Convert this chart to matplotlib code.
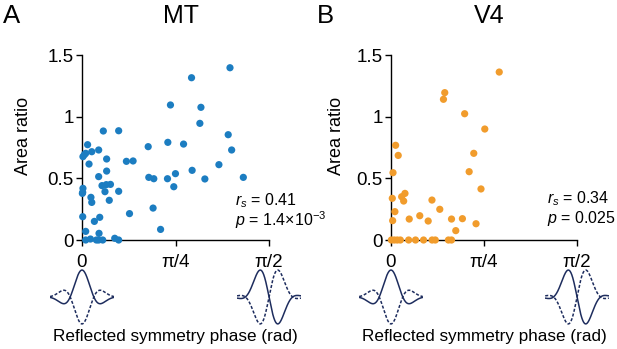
import numpy as np
import matplotlib
matplotlib.use("Agg")
import matplotlib.pyplot as plt

FONT = "Liberation Sans"
plt.rcParams['font.family'] = [FONT, 'DejaVu Sans']
plt.rcParams['mathtext.fontset'] = 'custom'
plt.rcParams['mathtext.rm'] = FONT
plt.rcParams['mathtext.it'] = FONT + ':italic'

# ---- data ----
mt_phase = [0.920, 1.243, 0.743, 0.999, 0.990, 1.228, 1.257, 0.179, 0.308, 0.047,
            0.020, 0.031, 0.008, 0.082, 0.140, 0.059, 0.207, 0.140, 0.207, 0.373,
            0.429, 0.556, 0.721, 0.853, 0.561, 0.603, 0.718, 0.785, 0.771, 0.925,
            1.032, 1.150, 1.355, 0.597, 0.660, 0.399, 0.008, 0.006, 0.003, 0.075,
            0.082, 0.006, 0.168, 0.193, 0.204, 0.239, 0.229, 0.308, 0.149, 0.104,
            0.031, 0.143, 0.031, 0.071, 0.121, 0.174, 0.275, 0.308, 0.140]
mt_ratio = [1.316, 1.397, 1.095, 1.076, 0.946, 0.854, 0.730, 0.884, 0.886, 0.773,
            0.692, 0.703, 0.676, 0.716, 0.730, 0.616, 0.657, 0.514, 0.559, 0.638,
            0.641, 0.757, 0.792, 0.778, 0.508, 0.497, 0.497, 0.538, 0.432, 0.565,
            0.495, 0.611, 0.508, 0.259, 0.086, 0.214, 0.419, 0.386, 0.378, 0.346,
            0.305, 0.189, 0.441, 0.392, 0.449, 0.451, 0.322, 0.395, 0.184, 0.151,
            0.070, 0.054, 0.000, 0.008, 0.000, 0.000, 0.014, 0.000, 0.000]

v4_phase = [0.914, 0.454, 0.443, 0.622, 0.792, 0.039, 0.061, 0.017, 0.699, 0.660,
            0.760, 0.011, 0.090, 0.118, 0.107, 0.033, 0.014, 0.154, 0.243, 0.314,
            0.346, 0.412, 0.511, 0.603, 0.718, 0.547,
            0.003, 0.028, 0.053, 0.079, 0.149, 0.207, 0.275, 0.347, 0.374, 0.485, 0.511]
v4_ratio = [1.362, 1.195, 1.141, 1.024, 0.900, 0.768, 0.686, 0.546, 0.703, 0.554,
            0.414, 0.338, 0.351, 0.378, 0.316, 0.230, 0.157, 0.170, 0.197, 0.154,
            0.324, 0.249, 0.170, 0.173, 0.132, 0.076,
            0.0, 0.0, 0.0, 0.0, 0.0, 0.0, 0.0, 0.0, 0.0, 0.0, 0.0]

panels = ["A", "B"]
titles = ["MT", "V4"]
stats_r = ["0.41", "0.34"]
stats_p = [r"1.4×10$^{-3}$", "0.025"]
xticklabels = ["0", "π/4", "π/2"]
yticks = [0, 0.5, 1, 1.5]
yticklabels = ["0", "0.5", "1", "1.5"]

colors = ["#1c7dc1", "#f19c2c"]
icon_color = "#1e2d5e"

fig = plt.figure(figsize=(6.17, 3.49), dpi=100)
axes = [fig.add_axes([0.1329, 0.3123, 0.3031, 0.530]),
        fig.add_axes([0.6337, 0.3123, 0.3015, 0.530])]

t = np.linspace(-2.6, 2.6, 400)
env = np.exp(-t**2 / (2 * 1.0**2))
even = env * np.cos(2 * np.pi * 0.26 * t)
odd = env * np.sin(2 * np.pi * 0.26 * t)
odd = odd / np.abs(odd).max()

data = [(mt_phase, mt_ratio), (v4_phase, v4_ratio)]
stat_pos = [(0.818, 0.212, 0.110), (0.836, 0.222, 0.118)]
title_x = [0.53, 0.53]
ylabel_x = [-0.265, -0.245]
letter_x = [0.004, 0.514]

for i, ax in enumerate(axes):
    x, y = data[i]
    ax.scatter(x, y, s=27, color=colors[i], edgecolors='none', clip_on=False, zorder=3)
    ax.set_xlim(0, np.pi / 2)
    ax.set_ylim(0, 1.5)
    ax.set_xticks([0, np.pi / 4, np.pi / 2])
    ax.set_xticklabels(xticklabels)
    ax.set_yticks(yticks)
    ax.set_yticklabels(yticklabels)
    for s in ['top', 'right']:
        ax.spines[s].set_visible(False)
    for s in ['left', 'bottom']:
        ax.spines[s].set_linewidth(1.0)
    ax.tick_params(axis='both', direction='out', length=4, width=1.0,
                   labelsize=13.5, colors='black')
    ax.tick_params(axis='y', pad=2)
    ax.tick_params(axis='x', pad=6)
    ax.set_ylabel("Area ratio", fontsize=13)
    ax.yaxis.set_label_coords(ylabel_x[i], 0.56)
    ax.set_xlabel("Reflected symmetry phase (rad)", fontsize=12.3, va='center')
    ax.xaxis.set_label_coords(0.5, -0.524)
    ax.text(title_x[i], 1.21, titles[i], transform=ax.transAxes,
            fontsize=18, ha='center', va='center')
    sx, sy1, sy2 = stat_pos[i]
    ax.text(sx, sy1, r"$r_s$ = " + stats_r[i], transform=ax.transAxes,
            fontsize=11.5, va='center', ha='left')
    ax.text(sx, sy2, r"$p$ = " + stats_p[i], transform=ax.transAxes,
            fontsize=11.5, va='center', ha='left')

    # receptive-field icons at phase 0 and pi/2
    for xc, solid, dashed in [(0.0, even, -even), (1.0, -odd, odd)]:
        ins = ax.inset_axes([xc - 0.171, -0.458, 0.342, 0.30])
        ins.plot(t, solid, color=icon_color, lw=1.1)
        ins.plot(t, dashed, color=icon_color, lw=1.1, ls=(0, (2, 1.2)))
        ins.set_xlim(t[0], t[-1])
        ins.set_ylim(-1.03, 1.03)
        ins.axis('off')

    fig.text(letter_x[i], 0.953, panels[i], fontsize=18.5, ha='left', va='center')

fig.savefig("out.png", dpi=100)
